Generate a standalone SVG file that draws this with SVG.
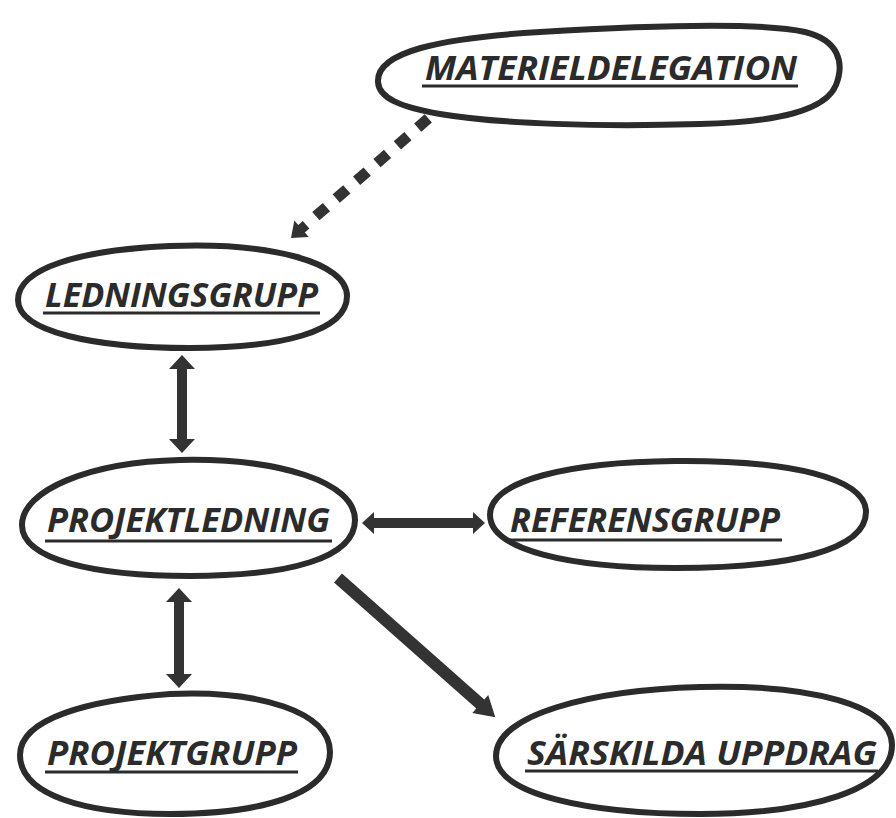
<svg xmlns="http://www.w3.org/2000/svg" width="896" height="818" viewBox="0 0 896 818">
<style>
.node{fill:none;stroke:#2b2b2b;stroke-width:6;stroke-linejoin:round}
.lbl{font-family:"Open Sans","Noto Sans","Liberation Sans",sans-serif;font-weight:bold;font-style:italic;font-size:34px;fill:#2b2b2b}
.ul{stroke:#2b2b2b;stroke-width:3}
.arr{fill:#333333}
</style>
<rect width="896" height="818" fill="#ffffff"/>
<g id="connectors">
  <g id="c-mat-led" transform="translate(423,123) rotate(138.97)">
    <line x1="-7" y1="0" x2="150" y2="0" stroke="#333333" stroke-width="11" stroke-dasharray="14 13"/>
    <polygon class="arr" points="155,-5 161,-5 161,-11 175,0 161,11 161,5 155,5"/>
  </g>
  <polygon id="c-led-proj" class="arr" points="182,355 195,369 187,369 187,439 195,439 182,453 169,439 177,439 177,369 169,369"/>
  <polygon id="c-proj-ref" class="arr" points="362,523 374,512 374,518 473,518 473,512 485,523 473,534 473,528 374,528 374,534"/>
  <polygon id="c-proj-pg" class="arr" points="179,588 192,602 184,602 184,674 192,674 179,688 166,674 174,674 174,602 166,602"/>
  <g id="c-proj-sar" transform="translate(338,578) rotate(41.5)">
    <polygon class="arr" points="0,-6 190,-6 190,-12 210,0 190,12 190,6 0,6"/>
  </g>
</g>
<g id="materieldelegation">
  <path class="node" d="M 378,82 C 376,52 440,38 540,32 C 640,26 760,22 805,32 C 838,40 845,62 836,85 C 826,110 780,122 700,124 C 600,127 500,124 440,114 C 400,107 379,98 378,82 Z"/>
  <text class="lbl" x="425" y="80" textLength="372" lengthAdjust="spacingAndGlyphs">MATERIELDELEGATION</text>
  <line class="ul" x1="422" y1="86" x2="798" y2="86"/>
</g>
<g id="ledningsgrupp">
  <path class="node" d="M 18,300 C 18,268 80,250 170,246 C 270,242 347,262 347,296 C 347,332 280,348 190,348 C 95,348 18,332 18,300 Z"/>
  <text class="lbl" x="45" y="307" textLength="273" lengthAdjust="spacingAndGlyphs">LEDNINGSGRUPP</text>
  <line class="ul" x1="43" y1="313" x2="320" y2="313"/>
</g>
<g id="projektledning">
  <path class="node" d="M 22,525 C 22,490 90,462 180,460 C 280,458 355,482 355,520 C 355,558 290,576 190,576 C 95,576 22,560 22,525 Z"/>
  <text class="lbl" x="47" y="532" textLength="283" lengthAdjust="spacingAndGlyphs">PROJEKTLEDNING</text>
  <line class="ul" x1="45" y1="541" x2="332" y2="541"/>
</g>
<g id="referensgrupp">
  <path class="node" d="M 490,515 C 490,480 570,462 675,461 C 790,460 866,478 866,512 C 866,550 790,568 675,568 C 570,568 490,550 490,515 Z"/>
  <text class="lbl" x="510" y="532" textLength="270" lengthAdjust="spacingAndGlyphs">REFERENSGRUPP</text>
  <line class="ul" x1="508" y1="540" x2="782" y2="540"/>
</g>
<g id="projektgrupp">
  <path class="node" d="M 20,755 C 20,718 90,700 170,694 C 260,690 330,712 330,752 C 330,795 260,814 170,814 C 85,814 20,795 20,755 Z"/>
  <text class="lbl" x="47" y="765" textLength="250" lengthAdjust="spacingAndGlyphs">PROJEKTGRUPP</text>
  <line class="ul" x1="45" y1="772" x2="298" y2="772"/>
</g>
<g id="sarskilda-uppdrag">
  <path class="node" d="M 496,756 C 496,715 590,690 700,687 C 810,684 892,705 892,745 C 892,790 810,814 700,814 C 590,814 496,795 496,756 Z"/>
  <text class="lbl" x="527" y="765" textLength="350" lengthAdjust="spacingAndGlyphs">SÄRSKILDA UPPDRAG</text>
  <line class="ul" x1="525" y1="771" x2="878" y2="771"/>
</g>
</svg>
